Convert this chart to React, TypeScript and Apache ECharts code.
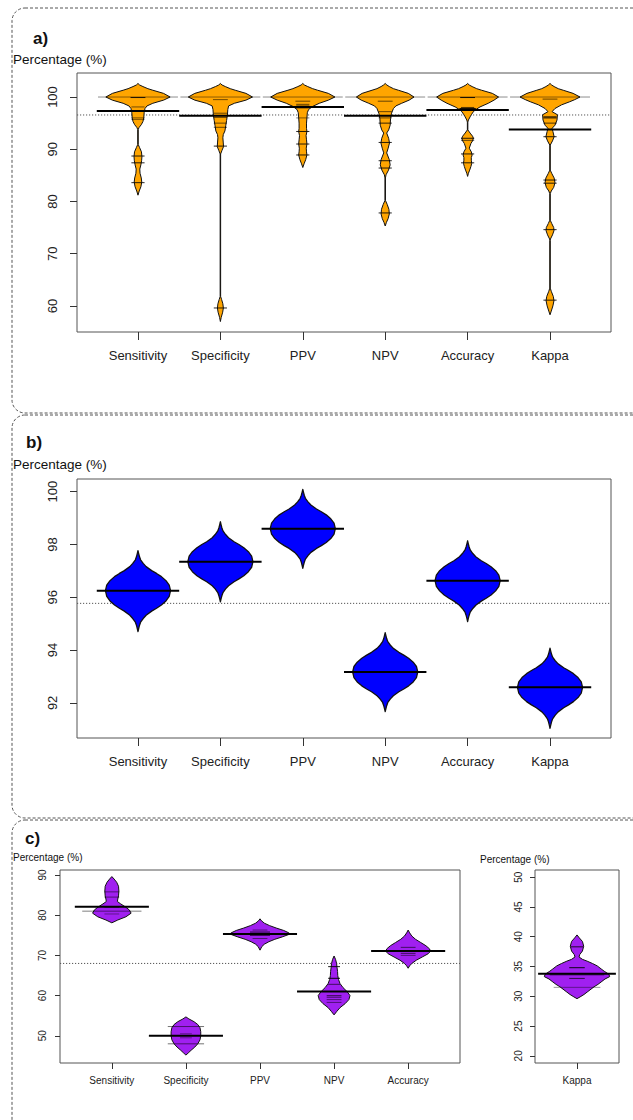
import React, { useEffect, useRef } from "react";
import * as echarts from "echarts";

const FONT = "'Liberation Sans', Arial, Helvetica, sans-serif";

// ---------- Panel a ----------
const catsA = ["Sensitivity", "Specificity", "PPV", "NPV", "Accuracy", "Kappa"];
const yTicksA = [60, 70, 80, 90, 100];
const meansA = [97.3, 96.4, 98.1, 96.4, 97.5, 93.8];
const overallA = 96.56;
// bean outline: [value, half width in category units]
const sensA = [[102.6,0],[102.3,0.02],[102.0,0.06],[101.6,0.12],[101.3,0.18],[100.7,0.31],[100.0,0.39],[99.4,0.31],[98.8,0.18],[98.3,0.11],[97.8,0.085],[97.0,0.075],[96.0,0.07],[95.3,0.06],[94.7,0.04],[94.2,0.015],[93.8,0.003],[90.9,0.003],[90.3,0.02],[89.5,0.042],[88.6,0.048],[87.8,0.044],[87.0,0.035],[86.2,0.022],[85.4,0.025],[84.5,0.04],[83.7,0.046],[82.8,0.035],[82.0,0.015],[81.2,0]];
const specA = [[102.6,0],[102.3,0.02],[102.0,0.06],[101.6,0.12],[101.3,0.18],[100.7,0.31],[100.0,0.39],[99.4,0.31],[98.8,0.17],[98.3,0.1],[97.6,0.09],[96.5,0.085],[95.5,0.075],[94.5,0.065],[93.5,0.055],[92.8,0.035],[92.2,0.03],[91.2,0.035],[90.5,0.038],[89.8,0.02],[89.1,0.003],[61.8,0.003],[61.2,0.015],[60.4,0.03],[59.6,0.036],[58.8,0.028],[57.8,0.01],[57.0,0]];
const ppvA = [[102.6,0],[102.3,0.02],[102.0,0.06],[101.6,0.12],[101.3,0.18],[100.7,0.31],[100.0,0.39],[99.4,0.31],[98.8,0.2],[98.2,0.12],[97.6,0.07],[97.0,0.055],[96.0,0.05],[95.0,0.045],[94.0,0.045],[93.4,0.05],[92.6,0.04],[91.8,0.045],[91.0,0.05],[90.2,0.042],[89.5,0.045],[88.9,0.05],[88.0,0.035],[87.2,0.015],[86.5,0]];
const npvA = [[102.6,0],[102.3,0.02],[102.0,0.05],[101.6,0.1],[101.3,0.16],[100.7,0.28],[100.0,0.35],[99.4,0.29],[98.8,0.2],[98.3,0.13],[97.8,0.1],[96.9,0.077],[95.9,0.065],[94.6,0.06],[93.7,0.042],[93.1,0.018],[92.1,0.042],[91.2,0.052],[90.2,0.036],[89.3,0.018],[88.0,0.05],[87.0,0.06],[86.0,0.04],[85.1,0.01],[84.5,0.003],[80.2,0.003],[79.4,0.025],[78.5,0.045],[77.6,0.05],[76.7,0.035],[76.0,0.015],[75.3,0]];
const accA = [[102.6,0],[102.3,0.02],[102.0,0.055],[101.6,0.11],[101.3,0.17],[100.7,0.3],[100.0,0.376],[99.4,0.32],[98.8,0.25],[98.1,0.15],[97.6,0.1],[97.2,0.07],[96.6,0.045],[96.2,0.03],[95.6,0.01],[95.2,0.003],[93.7,0.003],[93.1,0.03],[92.5,0.06],[92.1,0.07],[91.6,0.06],[91.1,0.04],[90.2,0.02],[89.5,0.045],[88.9,0.055],[88.4,0.045],[87.9,0.045],[87.3,0.05],[86.7,0.04],[86.0,0.025],[85.4,0.01],[84.8,0]];
const kapA = [[102.6,0],[102.3,0.02],[102.0,0.05],[101.6,0.1],[101.3,0.16],[100.7,0.28],[100.0,0.364],[99.5,0.3],[99.1,0.24],[98.5,0.14],[97.8,0.06],[97.2,0.025],[96.6,0.09],[95.6,0.085],[94.6,0.06],[94.0,0.025],[93.4,0.035],[92.4,0.05],[91.6,0.03],[90.8,0.003],[86.0,0.003],[85.4,0.02],[84.5,0.05],[83.6,0.06],[82.7,0.045],[82.0,0.015],[81.5,0.003],[76.4,0.003],[75.8,0.02],[75.0,0.045],[74.4,0.048],[73.6,0.03],[72.8,0.005],[72.5,0.003],[63.4,0.003],[62.8,0.015],[61.8,0.04],[61.0,0.048],[60.0,0.035],[59.0,0.015],[58.3,0]];
const profilesA = [sensA, specA, ppvA, npvA, accA, kapA];
// bean lines: [value, half length in category units, darkness]
const linesA = [
  [[100,0.485,0.45],[99.9,0.09,0.85],[98.1,0.08,0.55],[96.0,0.08,0.55],[95.7,0.08,0.45],[88.7,0.08,0.85],[87.4,0.08,0.85],[83.6,0.08,0.85]],
  [[100,0.485,0.45],[99.5,0.09,0.55],[96.9,0.08,0.6],[96.1,0.08,0.6],[95.0,0.08,0.6],[94.2,0.08,0.6],[90.6,0.08,0.85],[59.6,0.08,0.85]],
  [[100,0.485,0.45],[99.2,0.09,0.6],[98.6,0.08,0.6],[98.3,0.08,0.6],[97.9,0.08,0.6],[96.0,0.08,0.5],[93.4,0.08,0.85],[91.0,0.08,0.85],[88.9,0.08,0.85]],
  [[100,0.485,0.45],[99.2,0.09,0.6],[97.2,0.08,0.6],[96.0,0.08,0.6],[95.0,0.08,0.8],[91.3,0.08,0.85],[87.8,0.08,0.85],[86.4,0.08,0.85],[77.8,0.08,0.85]],
  [[100,0.485,0.45],[99.9,0.09,0.9],[98.0,0.08,0.7],[97.8,0.1,0.9],[97.6,0.08,0.7],[92.1,0.08,0.85],[91.7,0.08,0.6],[89.1,0.08,0.85],[87.4,0.08,0.85]],
  [[100,0.485,0.45],[99.6,0.09,0.6],[96.2,0.08,0.9],[96.0,0.08,0.9],[95.0,0.08,0.7],[92.4,0.08,0.85],[84.1,0.08,0.85],[83.5,0.08,0.85],[74.6,0.08,0.85],[61.1,0.08,0.85]],
];

// ---------- Panel b ----------
const catsB = ["Sensitivity", "Specificity", "PPV", "NPV", "Accuracy", "Kappa"];
const yTicksB = [92, 94, 96, 98, 100];
const topsB = [97.77, 98.86, 100.09, 94.66, 98.14, 94.07];
const meansB = [96.25, 97.35, 98.6, 93.17, 96.63, 92.59];
const bottomsB = [94.7, 95.83, 97.1, 91.67, 95.08, 91.04];
const maxHalfB = 0.395;
const overallB = 95.77;
// shape of the blue beans: [fraction from centre to tip, fraction of max half width]
const shapeB = [[1,0],[0.93,0.02],[0.85,0.045],[0.77,0.08],[0.68,0.16],[0.6,0.25],[0.5,0.42],[0.43,0.57],[0.35,0.72],[0.25,0.86],[0.14,0.96],[0,1]];

// ---------- Panel c (left) ----------
const catsC = ["Sensitivity", "Specificity", "PPV", "NPV", "Accuracy"];
const yTicksC = [50, 60, 70, 80, 90];
const meansC = [82.1, 50.0, 75.3, 61.0, 71.1];
const overallC = 68.0;
const sensC = [[89.6,0],[89.0,0.03],[88.2,0.065],[87.2,0.09],[86.0,0.095],[84.8,0.09],[84.0,0.08],[83.4,0.075],[82.8,0.12],[82.1,0.18],[81.3,0.236],[80.5,0.26],[79.6,0.19],[78.8,0.08],[78.1,0]];
const specC = [[54.7,0],[54.2,0.04],[53.5,0.11],[52.8,0.16],[52.0,0.19],[51.0,0.2],[50.0,0.2],[49.0,0.19],[48.0,0.16],[47.2,0.12],[46.4,0.07],[45.7,0.03],[45.2,0]];
const ppvC = [[79.1,0],[78.6,0.02],[78.0,0.06],[77.4,0.13],[76.8,0.22],[76.2,0.32],[75.6,0.39],[75.2,0.39],[74.6,0.3],[74.0,0.2],[73.4,0.12],[72.8,0.06],[72.2,0.025],[71.3,0]];
const npvC = [[69.85,0],[69.0,0.02],[68.0,0.034],[67.0,0.04],[66.0,0.047],[65.0,0.05],[64.0,0.06],[63.0,0.08],[62.0,0.12],[61.0,0.175],[60.0,0.215],[59.0,0.2],[58.0,0.15],[57.0,0.08],[56.0,0.034],[55.2,0]];
const accC = [[76.3,0],[75.6,0.02],[74.8,0.05],[74.0,0.1],[73.2,0.17],[72.4,0.24],[71.6,0.29],[71.0,0.3],[70.4,0.27],[69.6,0.19],[68.8,0.11],[68.0,0.05],[67.4,0.02],[66.8,0]];
const profilesC = [sensC, specC, ppvC, npvC, accC];
const linesC = [
  [[85.8,0.1,0.5],[84.5,0.1,0.5],[82.0,0.1,0.5],[81.0,0.4,0.5],[80.3,0.1,0.4]],
  [[52.3,0.245,0.55],[48.0,0.245,0.55],[50.5,0.08,0.4],[49.5,0.08,0.4]],
  [[75.4,0.135,1.0],[75.8,0.135,0.8],[75.0,0.135,0.8],[76.3,0.1,0.5],[74.2,0.1,0.5]],
  [[67.2,0.08,0.9],[64.3,0.08,0.9],[62.8,0.08,0.6],[60.0,0.1,0.6],[59.6,0.1,0.6],[59.0,0.1,0.5],[58.3,0.1,0.5]],
  [[72.0,0.1,0.6],[70.5,0.1,0.6],[70.0,0.1,0.5]],
];

// ---------- Panel c (right) ----------
const catsK = ["Kappa"];
const yTicksK = [20, 25, 30, 35, 40, 45, 50];
const meansK = [33.8];
const kapC = [[40.3,0],[39.8,0.03],[39.2,0.07],[38.4,0.086],[37.6,0.07],[37.0,0.035],[36.6,0.026],[36.2,0.07],[35.9,0.13],[35.5,0.2],[35.1,0.26],[34.6,0.31],[34.2,0.35],[33.7,0.41],[33.3,0.42],[32.9,0.36],[32.5,0.32],[32.0,0.27],[31.6,0.22],[31.2,0.18],[30.8,0.14],[30.3,0.09],[29.9,0.04],[29.6,0]];
const profilesK = [kapC];
const linesK = [[[38.3,0.08,0.8],[34.8,0.1,0.9],[33.6,0.35,0.7],[33.0,0.1,0.7],[31.5,0.3,0.4]]];

function buildProfilesB() {
  return meansB.map((m, i) => {
    const top = shapeB.map(([f, w]) => [m + f * (topsB[i] - m), w * maxHalfB]);
    const bottom = shapeB.slice(0, -1).reverse().map(([f, w]) => [m - f * (m - bottomsB[i]), w * maxHalfB]);
    return top.concat(bottom);
  });
}

function beanRender(profiles: number[][][], lines: number[][][], means: number[], fill: string, strokeW: number) {
  return (params: any, api: any) => {
    const i = params.dataIndex;
    const x = api.value(0);
    const prof = profiles[i];
    const left = prof.map(([v, w]) => api.coord([x - w, v]));
    const right = prof.slice().reverse().map(([v, w]) => api.coord([x + w, v]));
    const children: any[] = [
      {
        type: "polygon",
        shape: { points: left.concat(right) },
        style: { fill, stroke: "#111", lineWidth: strokeW, lineJoin: "round" },
      },
    ];
    (lines[i] || []).forEach(([v, h, a]) => {
      const p1 = api.coord([x - h, v]);
      const p2 = api.coord([x + h, v]);
      children.push({
        type: "line",
        shape: { x1: p1[0], y1: p1[1], x2: p2[0], y2: p2[1] },
        style: { stroke: `rgba(0,0,0,${a})`, lineWidth: 1 },
      });
    });
    const m1 = api.coord([x - 0.5, means[i]]);
    const m2 = api.coord([x + 0.5, means[i]]);
    children.push({
      type: "line",
      shape: { x1: m1[0], y1: m1[1], x2: m2[0], y2: m2[1] },
      style: { stroke: "#000", lineWidth: 2 },
    });
    return { type: "group", children };
  };
}

function overallRender(xmin: number, xmax: number) {
  return (params: any, api: any) => {
    const v = api.value(0);
    const p1 = api.coord([xmin, v]);
    const p2 = api.coord([xmax, v]);
    return {
      type: "line",
      shape: { x1: p1[0], y1: p1[1], x2: p2[0], y2: p2[1] },
      style: { stroke: "#555", lineWidth: 1, lineDash: [1.2, 1.8] },
    };
  };
}

// vertical (rotated) y tick labels, placed through the axis scale
function yLabelRender(xmin: number, offset: number, fs: number) {
  return (params: any, api: any) => {
    const v = api.value(0);
    const p = api.coord([xmin, v]);
    return {
      type: "text",
      x: p[0] - offset,
      y: p[1],
      rotation: Math.PI / 2,
      style: { text: String(v), fontSize: fs, fontFamily: FONT, fill: "#222", align: "center", verticalAlign: "middle" },
    };
  };
}

function xAxisDef(gi: number, min: number, max: number, names: string[], fs: number, tickLen: number, margin: number) {
  const vals = names.map((_, i) => i + 1);
  return {
    type: "value", gridIndex: gi, min, max,
    axisLine: { show: false }, splitLine: { show: false },
    axisTick: { show: true, customValues: vals, length: tickLen, lineStyle: { color: "#333", width: 1 } },
    axisLabel: {
      show: true, customValues: vals, margin, fontSize: fs, color: "#222", fontFamily: FONT,
      formatter: (v: number) => names[Math.round(v) - 1] || "",
    },
  };
}

function yAxisDef(gi: number, min: number, max: number, ticks: number[], tickLen: number) {
  return {
    type: "value", gridIndex: gi, min, max,
    axisLine: { show: false }, splitLine: { show: false },
    axisTick: { show: true, customValues: ticks, length: tickLen, lineStyle: { color: "#333", width: 1 } },
    axisLabel: { show: false },
  };
}

const gridStyle = { show: true, borderColor: "#555", borderWidth: 1, backgroundColor: "transparent", outerBoundsMode: "none" };

export default function App() {
  const ref = useRef<HTMLDivElement>(null);
  useEffect(() => {
    if (!ref.current) return;
    const chart = echarts.init(ref.current, null, { renderer: "svg" });
    const profilesB = buildProfilesB();
    const xa = [0.26, 6.74];
    const xc = [0.3, 5.7];
    const xk = [0.46, 1.54];
    const dashed = { fill: "none", stroke: "#555", lineWidth: 1, lineDash: [3, 2] };
    const txt = (x: number, y: number, text: string, size: number, bold = false) => ({
      type: "text", x, y,
      style: { text, fontSize: size, fontWeight: bold ? "bold" : "normal", fontFamily: FONT, fill: "#111", verticalAlign: "middle", align: "left" },
    });
    const yLab = (idx: number, ticks: number[], xmin: number, offset: number, fs: number) => ({
      type: "custom", xAxisIndex: idx, yAxisIndex: idx, z: 3, clip: false, silent: true,
      data: ticks.map((v) => [v]),
      encode: { y: 0 },
      renderItem: yLabelRender(xmin, offset, fs),
    });
    const option: any = {
      animation: false,
      backgroundColor: "#fff",
      grid: [
        { left: 77, top: 73, width: 534, height: 259, ...gridStyle },
        { left: 77, top: 479, width: 534, height: 259, ...gridStyle },
        { left: 60, top: 870, width: 400, height: 193, ...gridStyle },
        { left: 535, top: 870, width: 84, height: 193, ...gridStyle },
      ],
      xAxis: [
        xAxisDef(0, xa[0], xa[1], catsA, 13, 8, 17),
        xAxisDef(1, xa[0], xa[1], catsB, 13, 8, 17),
        xAxisDef(2, xc[0], xc[1], catsC, 10, 6, 12),
        xAxisDef(3, xk[0], xk[1], catsK, 10, 6, 12),
      ],
      yAxis: [
        yAxisDef(0, 55.0, 104.6, yTicksA, 7),
        yAxisDef(1, 90.67, 100.48, yTicksB, 7),
        yAxisDef(2, 43.23, 91.24, yTicksC, 5),
        yAxisDef(3, 18.8, 51.2, yTicksK, 5),
      ],
      graphic: [
        { type: "rect", shape: { x: 12, y: 8, width: 640, height: 405, r: 13 }, style: dashed, silent: true },
        { type: "rect", shape: { x: 12, y: 415, width: 640, height: 403, r: 13 }, style: dashed, silent: true },
        { type: "rect", shape: { x: 12, y: 820, width: 640, height: 320, r: 13 }, style: dashed, silent: true },
        txt(33, 38, "a)", 17, true),
        txt(13, 59, "Percentage (%)", 13.5),
        txt(26, 442, "b)", 17, true),
        txt(13, 464, "Percentage (%)", 13.5),
        txt(25, 838, "c)", 17, true),
        txt(13, 857, "Percentage (%)", 10),
        txt(480, 859, "Percentage (%)", 10),
      ],
      series: [
        { type: "custom", xAxisIndex: 0, yAxisIndex: 0, z: 1, clip: false, data: [[overallA]], encode: { y: 0 }, renderItem: overallRender(xa[0], xa[1]) },
        { type: "custom", xAxisIndex: 0, yAxisIndex: 0, z: 2, clip: false, data: catsA.map((_, i) => [i + 1]), renderItem: beanRender(profilesA, linesA, meansA, "#FFA500", 1) },
        { type: "custom", xAxisIndex: 1, yAxisIndex: 1, z: 1, clip: false, data: [[overallB]], encode: { y: 0 }, renderItem: overallRender(xa[0], xa[1]) },
        { type: "custom", xAxisIndex: 1, yAxisIndex: 1, z: 2, clip: false, data: catsB.map((_, i) => [i + 1]), renderItem: beanRender(profilesB, [], meansB, "#0000FF", 1.3) },
        { type: "custom", xAxisIndex: 2, yAxisIndex: 2, z: 1, clip: false, data: [[overallC]], encode: { y: 0 }, renderItem: overallRender(xc[0], xc[1]) },
        { type: "custom", xAxisIndex: 2, yAxisIndex: 2, z: 2, clip: false, data: catsC.map((_, i) => [i + 1]), renderItem: beanRender(profilesC, linesC, meansC, "#A020F0", 1) },
        { type: "custom", xAxisIndex: 3, yAxisIndex: 3, z: 2, clip: false, data: catsK.map((_, i) => [i + 1]), renderItem: beanRender(profilesK, linesK, meansK, "#A020F0", 1) },
        yLab(0, yTicksA, xa[0], 25, 13),
        yLab(1, yTicksB, xa[0], 25, 13),
        yLab(2, yTicksC, xc[0], 18, 10),
        yLab(3, yTicksK, xk[0], 17, 10),
      ],
    };
    chart.setOption(option);
    return () => chart.dispose();
  }, []);
  return <div ref={ref} style={{ position: "absolute", left: 0, top: 0, width: 633, height: 1120 }} />;
}
